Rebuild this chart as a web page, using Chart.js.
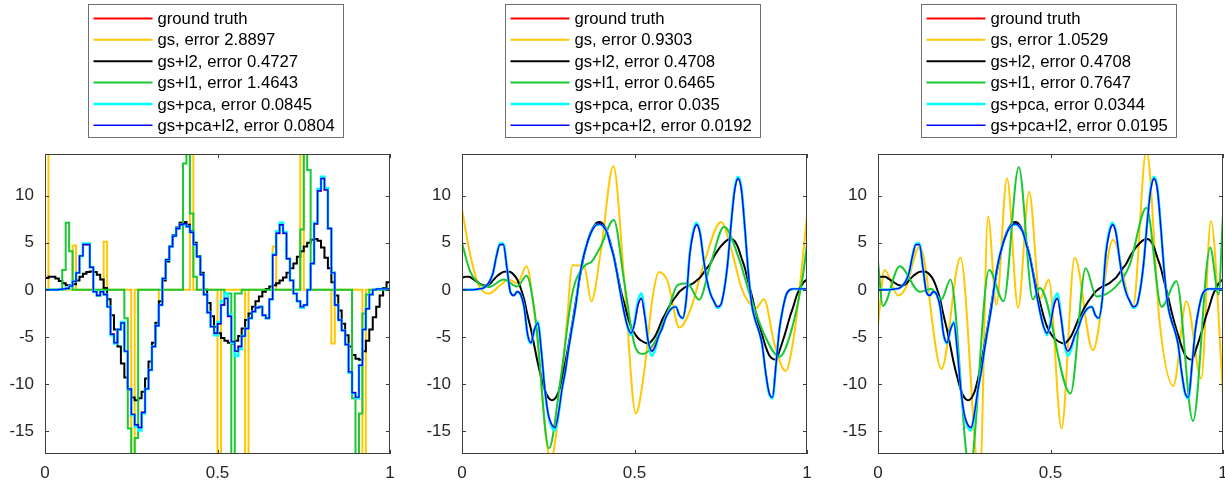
<!DOCTYPE html>
<html>
<head>
<meta charset="utf-8">
<script src="https://cdn.jsdelivr.net/npm/chart.js@4.4.0/dist/chart.umd.min.js"></script>
<style>
  html, body { margin: 0; padding: 0; background: #fff; overflow: hidden; }
  body { width: 1225px; height: 483px; position: relative; }
  canvas { position: absolute; top: 0; }
</style>
</head>
<body>
<canvas id="c1" width="400" height="483" style="left:0px"></canvas>
<canvas id="c2" width="400" height="483" style="left:417px"></canvas>
<canvas id="c3" width="400" height="483" style="left:833px"></canvas>
<script>
// axis ticks and limits
var xTicks = [0, 0.5, 1];
var yTicks = [-15, -10, -5, 0, 5, 10];
var yMin = -17.4, yMax = 14.4;

// legend texts
var methods = ['gs', 'gs+l2', 'gs+l1', 'gs+pca', 'gs+pca+l2'];
var errors1 = ['2.8897', '0.4727', '1.4643', '0.0845', '0.0804'];
var errors2 = ['0.9303', '0.4708', '0.6465', '0.035', '0.0192'];
var errors3 = ['1.0529', '0.4708', '0.7647', '0.0344', '0.0195'];

// signals sampled at t = 0, 0.01, ... 1
var truth = [0, 0, 0, 0, 0.05, 0.1, 0.15, 0.4, 0.9, 1.8,
  3.6, 4.8, 4.8, 2.4, -0.2, -0.6, -0.2, -0.5, -1.8, -4.7,
  -5.6, -4.2, -3.5, -6.5, -10.5, -13.2, -14.3, -14.6, -13.0, -10.5,
  -8.5, -6.0, -3.8, -1.6, 1.2, 3.2, 4.6, 5.7, 6.5, 6.9,
  7.0, 6.7, 6.1, 4.8, 3.5, 1.6, -0.5, -2.4, -3.9, -4.6,
  -3.6, -1.6, -0.9, -2.8, -5.5, -6.5, -6.0, -4.9, -4.1, -3.0,
  -2.3, -1.9, -1.8, -2.7, -3.0, -1.0, 3.7, 6.0, 6.9, 6.0,
  3.3, 1.0, -0.4, -1.2, -1.8, -1.6, 0.0, 2.8, 7.0, 10.5,
  11.8, 10.6, 6.5, 1.8, -1.6, -3.2, -4.3, -5.8, -8.7, -10.9,
  -11.4, -8.0, -4.2, -2.0, -0.5, 0.0, 0.1, 0.1, 0.1, 0.1, 0.1];

var gsPca = [0, 0, 0, 0, 0.05, 0.1, 0.15, 0.4, 0.9, 1.8,
  3.6, 4.9, 4.9, 2.4, -0.2, -0.6, -0.2, -0.5, -1.8, -4.8,
  -5.7, -4.2, -3.4, -6.5, -10.5, -13.3, -14.5, -14.9, -13.1, -10.5,
  -8.5, -6.0, -3.8, -1.6, 1.2, 3.2, 4.6, 5.7, 6.5, 6.9,
  6.9, 6.7, 6.1, 4.8, 3.5, 1.6, -0.5, -2.4, -3.9, -4.8,
  -3.4, -1.2, -0.4, -2.6, -5.6, -7.0, -6.3, -4.9, -4.1, -3.0,
  -2.3, -1.9, -1.8, -2.7, -3.0, -1.0, 3.8, 6.2, 7.1, 6.1,
  3.3, 1.0, -0.4, -1.2, -1.9, -1.6, 0.0, 2.8, 7.1, 10.7,
  12.0, 10.8, 6.5, 1.8, -1.6, -3.2, -4.3, -5.8, -8.8, -11.0,
  -11.5, -8.0, -4.2, -2.0, -0.5, 0.0, 0.1, 0.1, 0.1, 0.1, 0.1];

var gsL2 = [1.25, 1.4, 1.4, 1.2, 0.95, 0.7, 0.5, 0.45, 0.6, 1.0,
  1.4, 1.7, 1.9, 1.95, 1.9, 1.6, 1.1, 0.2, -1.0, -2.7,
  -4.2, -6.0, -7.8, -9.3, -10.6, -11.4, -11.7, -11.5, -10.8, -9.4,
  -7.6, -5.6, -3.5, -1.2, 1.0, 3.0, 4.6, 5.8, 6.6, 7.1,
  7.2, 6.9, 6.2, 5.0, 3.6, 1.8, 0.0, -1.4, -2.8, -3.9,
  -4.6, -5.1, -5.4, -5.6, -5.7, -5.4, -4.9, -4.1, -3.2, -2.5,
  -1.8, -1.2, -0.7, -0.2, 0.1, 0.35, 0.5, 0.7, 1.0, 1.3,
  1.8, 2.3, 2.8, 3.5, 4.1, 4.6, 5.0, 5.3, 5.4, 5.2,
  4.5, 3.4, 2.3, 0.8, -0.6, -2.2, -3.6, -4.8, -6.0, -6.9,
  -7.3, -7.4, -6.5, -5.4, -4.2, -2.9, -1.8, -0.6, 0.2, 0.8, 1.1];

// panel 1 (stairs): gs and gs+l1 are mostly zero with spikes
var gs1 = [30, 0, 0, 0, 0, 0, 0, 0, 4.7, 0,
  0, 0, 0, 0, 0, 0, 0, 5.1, 0, 0,
  0, 0, 0, 0, 0, -30, 0, 0, 0, 0,
  0, 0, 0, -1.6, 0, 0, 0, 0, 0, 0,
  0, 0, 30, 0, 0, 0, 0, 0, 0, 0,
  -30, 0, 0, 0, 0, 0, 0, 0, -30, 0,
  0, 0, 0, 0, 0, 0, 4.6, 0, 0, 0,
  0, 0, 0, 0, 30, 0, 0, 0, 0, 0,
  0, 0, 0, -5.7, 0, 0, 0, 0, 0, 0,
  0, 0, -30, 0, 0, 0, 0, 0, 0, 0, 0];

var gsL1a = [0, 0, 0, 0, 0, 2.1, 7.1, 4.1, 0, 0,
  0, 0, 0, 0, 0, 0, 0, 0, 0, 0,
  0, 0, 0, -3.0, -14.7, -30, -15.7, 0, 0, 0,
  0, 0, 0, 0, 0, 0, 0, 0, 0, 0,
  13.4, 30, 8.1, 1.4, 0, 0, 0, 0, 0, 0,
  0, 0, -0.4, -0.4, -30, -0.4, -0.4, 0, 0, 0,
  0, 0, 0, 0, 0, 0, 0, 0, 0, 0,
  0, 0, 0, 0, 6.4, 30, 12.7, 0, 0, 0,
  0, 0, 0, 0, 0, 0, 0, 0, 0, -11.5,
  -30, -13.1, -2.5, -0.5, 0, 0, 0, 0, 0, 0, 0];

// panel 2: gs and gs+l1 (turning points)
var gs2X = [0, 0.024, 0.048, 0.078, 0.111, 0.136, 0.16, 0.187, 0.213, 0.257, 0.286, 0.305,
  0.32, 0.354, 0.375, 0.402, 0.439, 0.47, 0.504, 0.528, 0.552, 0.571, 0.596, 0.63,
  0.664, 0.703, 0.751, 0.78, 0.81, 0.829, 0.853, 0.875, 0.906, 0.938, 0.964, 1.0];
var gs2Y = [8.5, 3.7, 0.5, -0.4, 0.5, 1.1, 0.7, 2.5, -3.4, -18, -11, -3,
  2.6, 2.5, -1.2, 4, 13.1, 1.2, -13.1, -8.7, -0.9, 1.9, 0.9, -4,
  -1.9, 3, 7.2, 4.4, 0.2, -1.2, -1.9, -1.0, -5.8, -8.6, -4.4, 7.8];

var l1b2X = [0, 0.024, 0.048, 0.078, 0.121, 0.16, 0.187, 0.213, 0.252, 0.286, 0.32, 0.354,
  0.376, 0.402, 0.44, 0.47, 0.5, 0.524, 0.557, 0.596, 0.625, 0.653, 0.687, 0.721,
  0.76, 0.799, 0.838, 0.877, 0.92, 0.954, 0.987, 1.0];
var l1b2Y = [4.95, 1.9, 0.7, 0.3, 1.1, 0.35, 1.5, -3, -16.8, -9.4, -0.35, 2.5,
  3.0, 4.6, 7.4, 0.9, -5.8, -6.8, -5.65, -2.3, 0.5, 0.7, -1.06, 2.8,
  6.7, 3.7, -0.9, -4.8, -7.1, -4.4, 1.24, 4.8];

// panel 3: gs and gs+l1 (turning points)
var gs3X = [0, 0.019, 0.058, 0.08, 0.121, 0.184, 0.239, 0.295, 0.319, 0.343, 0.374, 0.406,
  0.438, 0.47, 0.495, 0.532, 0.57, 0.623, 0.681, 0.739, 0.778, 0.817, 0.856, 0.894,
  0.937, 0.965, 1.0];
var gs3Y = [-3.7, 2.1, -0.6, 0.2, 4.6, -8.4, 3.4, -20, 7.8, -1.6, 11.8, -1.9,
  10.4, -0.9, 1.1, -14.7, 3.4, -6.4, 5.3, -1.8, 14.8, -3.7, -10.2, -1.2,
  -9.4, 7.3, -11];

var l1c3X = [0, 0.014, 0.063, 0.121, 0.155, 0.184, 0.21, 0.266, 0.322, 0.364, 0.408, 0.449,
  0.469, 0.558, 0.602, 0.633, 0.691, 0.729, 0.778, 0.822, 0.865, 0.913, 0.963, 0.987, 1.0];
var l1c3Y = [3.0, -1.7, 2.5, -0.2, 0.1, -1.0, 1.1, -19, 2.1, -1.2, 13.0, -1.0,
  0.2, -11.0, 2.3, -0.7, 0.4, 2.6, 8.7, -1.8, 0.9, -13.9, 4.5, -0.5, 8.1];

var colors = ['#ff0000', '#ffc800', '#000000', '#19c832', '#00ffff', '#0000ff'];
var widths = [2, 2, 2, 2, 2.5, 1.4];
var fontFamily = '"Liberation Sans", Arial, Helvetica, sans-serif';

function sampled(ys) {
  return ys.map(function (y, i) { return { x: i / 100, y: y }; });
}
function pairs(xs, ys) {
  return xs.map(function (x, i) { return { x: x, y: ys[i] }; });
}

// box with inward ticks on all four sides, plus the x tick labels
var axesBox = {
  id: 'axesBox',
  afterDatasetsDraw: function (chart) {
    var a = chart.chartArea, ctx = chart.ctx;
    var xs = chart.scales.x, ys = chart.scales.y;
    ctx.save();
    ctx.strokeStyle = '#3c3c3c';
    ctx.lineWidth = 1;
    ctx.strokeRect(a.left + 0.5, a.top + 0.5, a.right - a.left - 1, a.bottom - a.top - 1);
    ctx.beginPath();
    xTicks.forEach(function (v) {
      var px = Math.round(xs.getPixelForValue(v)) + 0.5;
      ctx.moveTo(px, a.bottom); ctx.lineTo(px, a.bottom - 4);
      ctx.moveTo(px, a.top); ctx.lineTo(px, a.top + 4);
    });
    yTicks.forEach(function (v) {
      var py = Math.round(ys.getPixelForValue(v)) + 0.5;
      ctx.moveTo(a.left, py); ctx.lineTo(a.left + 4, py);
      ctx.moveTo(a.right, py); ctx.lineTo(a.right - 4, py);
    });
    ctx.stroke();
    ctx.fillStyle = '#262626';
    ctx.font = '17px ' + fontFamily;
    ctx.textAlign = 'center';
    ctx.textBaseline = 'alphabetic';
    xTicks.forEach(function (v) {
      ctx.fillText(String(v), xs.getPixelForValue(v), a.bottom + 24);
    });
    ctx.restore();
  }
};

var legendBox = {
  id: 'legendBox',
  afterDraw: function (chart) {
    var ctx = chart.ctx, ds = chart.data.datasets;
    ctx.save();
    ctx.font = '16.7px ' + fontFamily;
    var textW = 0;
    ds.forEach(function (d) { textW = Math.max(textW, ctx.measureText(d.label).width); });
    var w = Math.round(5 + 59 + 5 + textW + 9);
    var cx = (chart.chartArea.left + chart.chartArea.right) / 2 - 2;
    var x0 = Math.round(cx - w / 2) + 0.5, y0 = 4.5, h = 133;
    ctx.fillStyle = '#ffffff';
    ctx.fillRect(x0, y0, w, h);
    ctx.strokeStyle = '#707070';
    ctx.lineWidth = 1;
    ctx.strokeRect(x0, y0, w, h);
    ds.forEach(function (d, i) {
      var y = 18.5 + i * 21.35;
      ctx.strokeStyle = d.borderColor;
      ctx.lineWidth = d.borderWidth;
      ctx.beginPath();
      ctx.moveTo(x0 + 5, y);
      ctx.lineTo(x0 + 64, y);
      ctx.stroke();
      ctx.fillStyle = '#000000';
      ctx.textBaseline = 'middle';
      ctx.fillText(d.label, x0 + 69, y + 1);
    });
    ctx.restore();
  }
};

function makePanel(id, errors, series, stepped) {
  var labels = ['ground truth'].concat(methods.map(function (m, i) { return m + ', error ' + errors[i]; }));
  var datasets = series.map(function (pts, i) {
    return {
      label: labels[i],
      data: pts,
      borderColor: colors[i],
      borderWidth: widths[i],
      pointRadius: 0,
      fill: false,
      stepped: stepped,
      cubicInterpolationMode: stepped ? 'default' : 'monotone',
      tension: 0,
      clip: 0,
      order: 5 - i
    };
  });
  new Chart(document.getElementById(id), {
    type: 'line',
    data: { datasets: datasets },
    options: {
      responsive: false,
      animation: false,
      events: [],
      layout: { padding: { top: 154, right: 10, bottom: 0, left: 0 } },
      plugins: { legend: { display: false }, tooltip: { enabled: false } },
      scales: {
        x: {
          type: 'linear', min: 0, max: 1,
          afterBuildTicks: function (ax) { ax.ticks = xTicks.map(function (v) { return { value: v }; }); },
          afterFit: function (ax) { ax.height = 29; },
          grid: { display: false, drawTicks: false },
          border: { display: false },
          ticks: { display: false }
        },
        y: {
          type: 'linear', min: yMin, max: yMax,
          afterBuildTicks: function (ax) { ax.ticks = yTicks.map(function (v) { return { value: v }; }); },
          afterFit: function (ax) { ax.width = 45; },
          grid: { display: false, drawTicks: false },
          border: { display: false },
          ticks: {
            padding: 11, color: '#262626', autoSkip: false,
            font: { size: 17, family: fontFamily },
            callback: function (v) { return String(v); }
          }
        }
      }
    },
    plugins: [axesBox, legendBox]
  });
}

makePanel('c1', errors1, [sampled(truth), sampled(gs1), sampled(gsL2), sampled(gsL1a), sampled(gsPca), sampled(truth)], true);
makePanel('c2', errors2, [sampled(truth), pairs(gs2X, gs2Y), sampled(gsL2), pairs(l1b2X, l1b2Y), sampled(gsPca), sampled(truth)], false);
makePanel('c3', errors3, [sampled(truth), pairs(gs3X, gs3Y), sampled(gsL2), pairs(l1c3X, l1c3Y), sampled(gsPca), sampled(truth)], false);
</script>
</body>
</html>
